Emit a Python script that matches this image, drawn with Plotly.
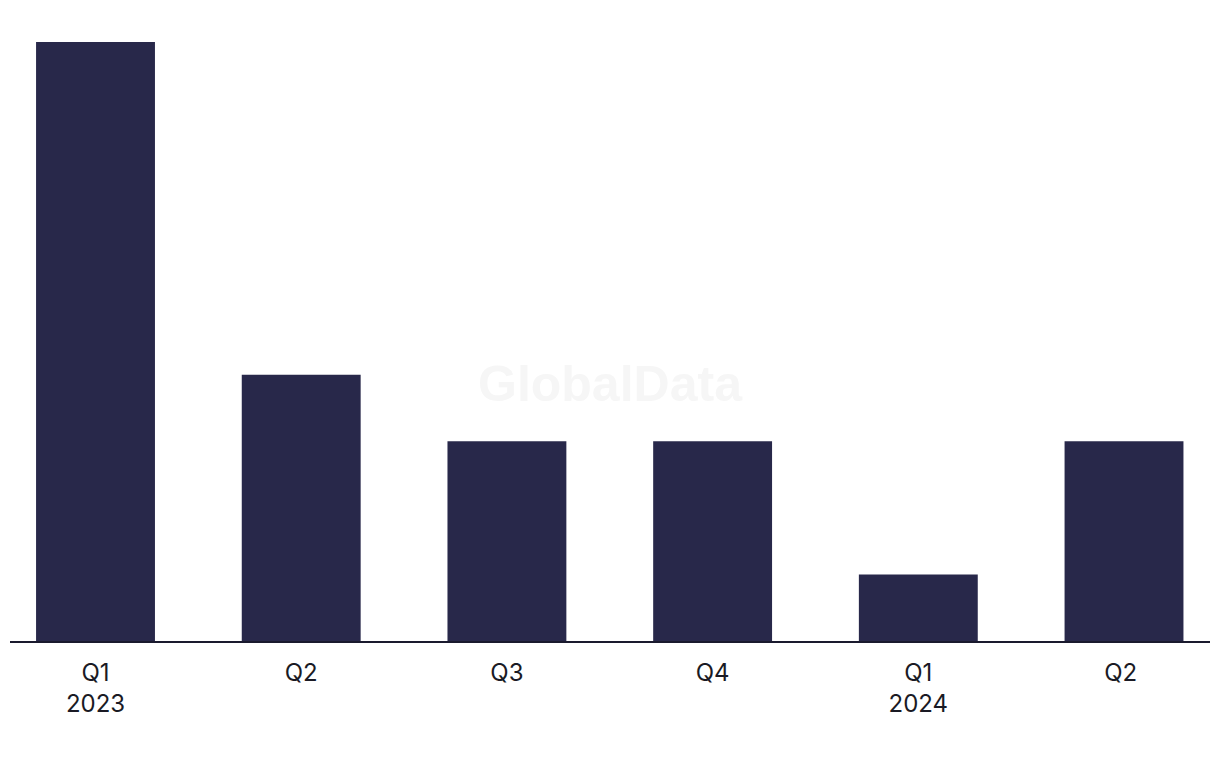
import plotly.graph_objects as go

categories = ["Q1<br>2023", "Q2", "Q3", "Q4", "Q1<br>2024", "Q2 "]
values = [9, 4, 3, 3, 1, 3]

fig = go.Figure(go.Bar(
    x=categories, y=values, width=0.578,
    marker=dict(color="#28284a", line=dict(width=0)),
    hoverinfo="x+y",
))

fig.update_layout(
    width=1220, height=768,
    margin=dict(l=10, r=10, t=42, b=127),
    paper_bgcolor="white", plot_bgcolor="white",
    showlegend=False,
    font=dict(family="Inter, Liberation Sans, Arial, sans-serif", color="#1a1a24", size=24),
    xaxis=dict(
        type="category", range=[-0.4157, 5.418],
        showline=True, linecolor="#1a1a2e", linewidth=2,
        ticks="", showgrid=False, zeroline=False,
        tickfont=dict(size=24, color="#1a1a24"),
        ticklabelstandoff=9,
    ),
    yaxis=dict(range=[0, 9], visible=False, showgrid=False, zeroline=False),
    annotations=[dict(
        text="<b>GlobalData</b>", x=0.5, y=(641 - 384) / 599, xref="paper", yref="paper",
        showarrow=False, font=dict(size=50, color="#f6f6f6", family="Liberation Sans, Arial, sans-serif"),
    )],
)

fig.write_html("out.html")
